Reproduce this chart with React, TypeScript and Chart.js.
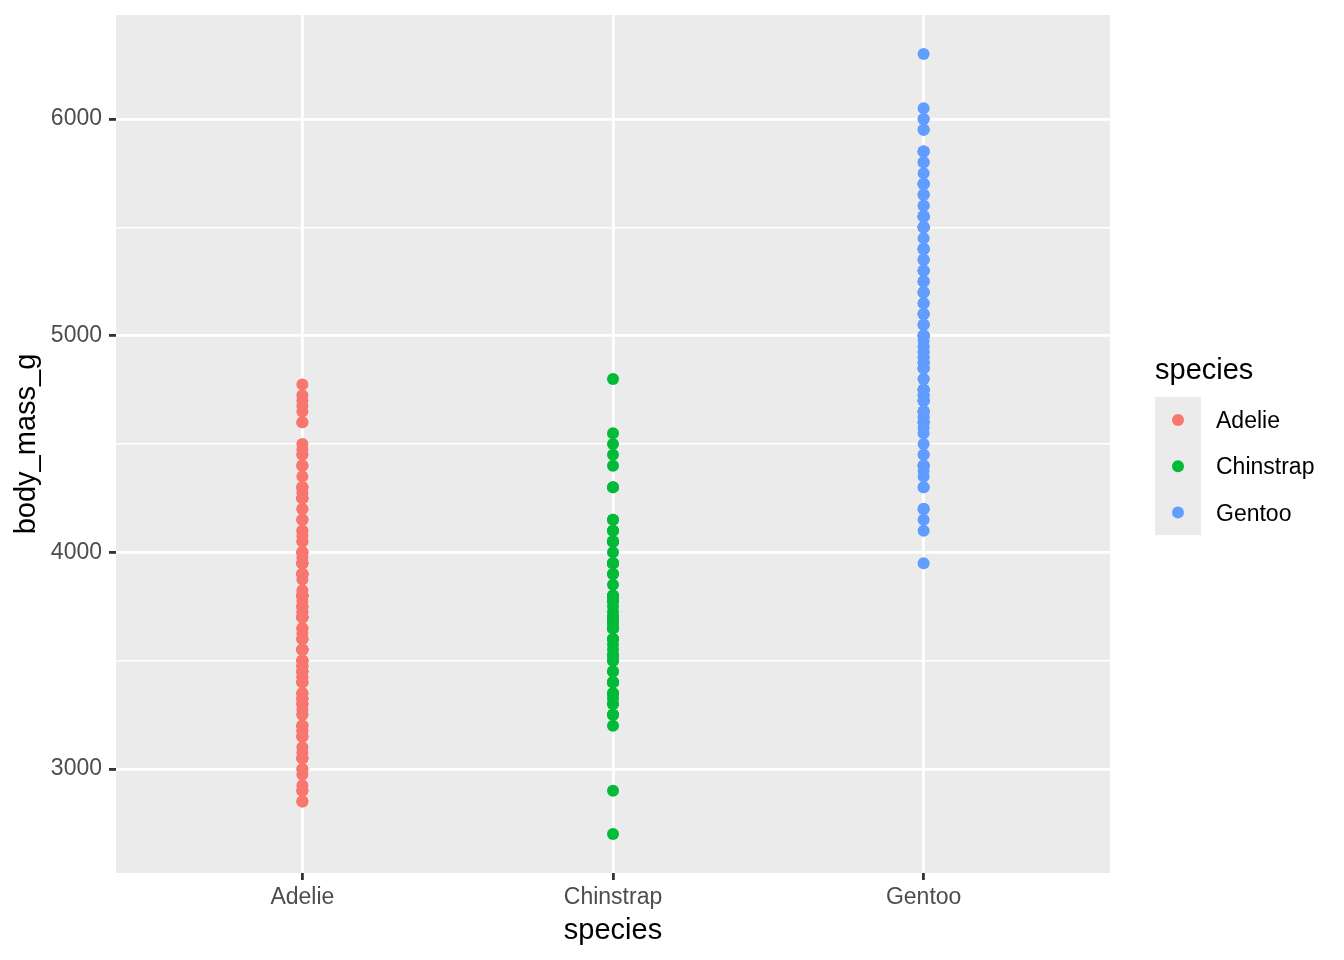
import React, { useEffect, useRef } from "react";
import { Chart, registerables } from "chart.js";

Chart.register(...registerables);

const categories = ["Adelie", "Chinstrap", "Gentoo"];
const colors = ["#F8766D", "#00BA38", "#619CFF"];

const adelieMass = [
  3750, 3800, 3250, 3450, 3650, 3625, 4675, 3475, 4250, 3300, 3700, 3200, 3800, 4400, 3700, 3450,
  4500, 3325, 4200, 3400, 3600, 3800, 3950, 3800, 3800, 3550, 3200, 3150, 3950, 3250, 3900, 3300,
  3900, 3325, 4150, 3950, 3550, 3300, 4650, 3150, 3900, 3100, 4400, 3000, 4600, 3425, 2975, 3450,
  4150, 3500, 4300, 3450, 4050, 2900, 3700, 3550, 3800, 2850, 3750, 3150, 4400, 3600, 4050, 2850,
  3950, 3350, 4100, 3050, 4450, 3600, 3900, 3550, 4150, 3700, 4250, 3700, 3900, 3550, 4000, 3200,
  4700, 3800, 4200, 3350, 3550, 3800, 3500, 3950, 3600, 3550, 4300, 3400, 4450, 3300, 4300, 3700,
  4350, 2900, 4100, 3725, 4725, 3075, 4250, 2925, 3550, 3750, 3900, 3175, 4775, 3825, 4600, 3200,
  4275, 3900, 4075, 2900, 3775, 3350, 3325, 3150, 3500, 3450, 3875, 3050, 4000, 3275, 4300, 3050,
  4000, 3325, 3500, 3500, 4475, 3425, 3900, 3175, 3975, 3400, 4250, 3400, 3475, 3050, 3725, 3000,
  3650, 4250, 3475, 3450, 3750, 3700, 4000,
];

const chinstrapMass = [
  3500, 3900, 3650, 3525, 3725, 3950, 3250, 3750, 4150, 3700, 3800, 3775, 3700, 4050, 3575, 4050,
  3300, 3700, 3450, 4400, 3600, 3400, 2900, 3800, 3300, 4150, 3400, 3800, 3700, 4550, 3200, 4300,
  3350, 4100, 3600, 3900, 3850, 4800, 2700, 4500, 3950, 3650, 3550, 3500, 3675, 4450, 3400, 4300,
  3250, 3675, 3325, 3950, 3600, 4050, 3350, 3450, 3250, 4050, 3800, 3525, 3950, 3650, 3650, 4000,
  3400, 3775, 4100, 3775,
];

const gentooMass = [
  4500, 5700, 4450, 5700, 5400, 4550, 4800, 5200, 4400, 5150, 4650, 5550, 4650, 5850, 4200, 5850,
  4150, 6300, 4800, 5350, 5700, 5000, 4400, 5050, 5000, 5100, 4100, 5650, 4600, 5550, 5250, 4700,
  5050, 6050, 5150, 5400, 4950, 5250, 4350, 5350, 3950, 5700, 4300, 4750, 5550, 4900, 4200, 5400,
  5100, 5300, 4850, 5300, 4400, 5000, 4900, 5050, 4300, 5000, 4450, 5550, 4200, 5300, 4400, 5650,
  4700, 5700, 4650, 5800, 4700, 5550, 4750, 5000, 5100, 5200, 4700, 5800, 4600, 6000, 4750, 5950,
  4625, 5450, 4725, 5350, 4750, 5600, 4600, 5300, 4875, 5550, 4950, 5400, 4750, 5650, 4850, 5200,
  4925, 4875, 4625, 5250, 4850, 5600, 4975, 5500, 4725, 5500, 4700, 5500, 4575, 5500, 5000, 5950,
  4650, 5500, 4375, 5850, 4875, 6000, 4925, 4850, 5750, 5200, 5400,
];

const seriesValues = [adelieMass, chinstrapMass, gentooMass];
const yTickValues = [3000, 3500, 4000, 4500, 5000, 5500, 6000];
const xTickValues = [1, 2, 3];

const FONT = '"Liberation Sans", Arial, sans-serif';

const panelBg = {
  id: "panelBg",
  beforeDraw(chart: any) {
    const { ctx, chartArea } = chart;
    ctx.save();
    ctx.fillStyle = "#EBEBEB";
    ctx.fillRect(chartArea.left, chartArea.top, chartArea.right - chartArea.left, chartArea.bottom - chartArea.top);
    ctx.restore();
  },
};

const ggLegend = {
  id: "ggLegend",
  afterDraw(chart: any) {
    const { ctx } = chart;
    const x0 = chart.chartArea.right + 45;
    ctx.save();
    ctx.fillStyle = "#000000";
    ctx.font = `29px ${FONT}`;
    ctx.textAlign = "left";
    ctx.textBaseline = "alphabetic";
    ctx.fillText("species", x0, 379);
    ctx.fillStyle = "#EBEBEB";
    ctx.fillRect(x0, 397, 46, 138);
    categories.forEach((c, i) => {
      const cy = 420 + i * 46.3;
      ctx.beginPath();
      ctx.arc(x0 + 23, cy, 6, 0, Math.PI * 2);
      ctx.fillStyle = colors[i];
      ctx.fill();
      ctx.fillStyle = "#000000";
      ctx.font = `23px ${FONT}`;
      ctx.fillText(c, x0 + 61, cy + 8);
    });
    ctx.restore();
  },
};

export default function App() {
  const ref = useRef<HTMLCanvasElement | null>(null);
  useEffect(() => {
    if (!ref.current) return;
    const chart = new Chart(ref.current, {
      type: "scatter",
      data: {
        datasets: categories.map((c, i) => ({
          label: c,
          data: seriesValues[i].map((v) => ({ x: i + 1, y: v })),
          backgroundColor: colors[i],
          borderColor: colors[i],
          borderWidth: 0,
          pointRadius: 6,
          pointHoverRadius: 6,
        })),
      },
      options: {
        responsive: false,
        animation: false,
        events: [],
        layout: { padding: { top: 15, right: 234, bottom: 0, left: 0 } },
        plugins: { legend: { display: false }, tooltip: { enabled: false } },
        scales: {
          x: {
            type: "linear",
            min: 0.4,
            max: 3.6,
            afterBuildTicks: (scale: any) => {
              scale.ticks = xTickValues.map((v) => ({ value: v }));
            },
            afterFit: (scale: any) => {
              scale.height = 87;
              scale.paddingLeft = 0;
              scale.paddingRight = 0;
            },
            border: { display: false },
            grid: {
              color: "#FFFFFF",
              lineWidth: 2.8,
              tickColor: "#333333",
              tickLength: 7,
              tickWidth: 2.8,
            },
            ticks: {
              color: "#4D4D4D",
              font: { family: FONT, size: 23 },
              padding: 4,
              maxRotation: 0,
              callback: (v: any) => categories[Math.round(Number(v)) - 1] ?? "",
            },
            title: {
              display: true,
              text: "species",
              color: "#000000",
              font: { family: FONT, size: 29 },
              padding: { top: 0, bottom: 12 },
            },
          },
          y: {
            type: "linear",
            min: 2520,
            max: 6480,
            afterBuildTicks: (scale: any) => {
              scale.ticks = yTickValues.map((v) => ({ value: v }));
            },
            afterFit: (scale: any) => {
              scale.width = 116;
              scale.paddingTop = 0;
              scale.paddingBottom = 0;
            },
            border: { display: false },
            grid: {
              color: "#FFFFFF",
              lineWidth: (ctx: any) => (ctx.tick && ctx.tick.value % 1000 === 0 ? 2.8 : 1.4),
              tickColor: (ctx: any) => (ctx.tick && ctx.tick.value % 1000 === 0 ? "#333333" : "rgba(0,0,0,0)"),
              tickLength: 7,
              tickWidth: 2.8,
            },
            ticks: {
              color: "#4D4D4D",
              font: { family: FONT, size: 23 },
              padding: 7,
              callback: (v: any) => (Number(v) % 1000 === 0 ? String(v) : ""),
            },
            title: {
              display: true,
              text: "body_mass_g",
              color: "#000000",
              font: { family: FONT, size: 29 },
              padding: { top: 10, bottom: 0 },
            },
          },
        },
      },
      plugins: [panelBg, ggLegend],
    });
    return () => chart.destroy();
  }, []);
  return (
    <div style={{ position: "fixed", left: 0, top: 0, width: 1344, height: 960, background: "#FFFFFF" }}>
      <canvas ref={ref} width={1344} height={960} style={{ display: "block" }} />
    </div>
  );
}
